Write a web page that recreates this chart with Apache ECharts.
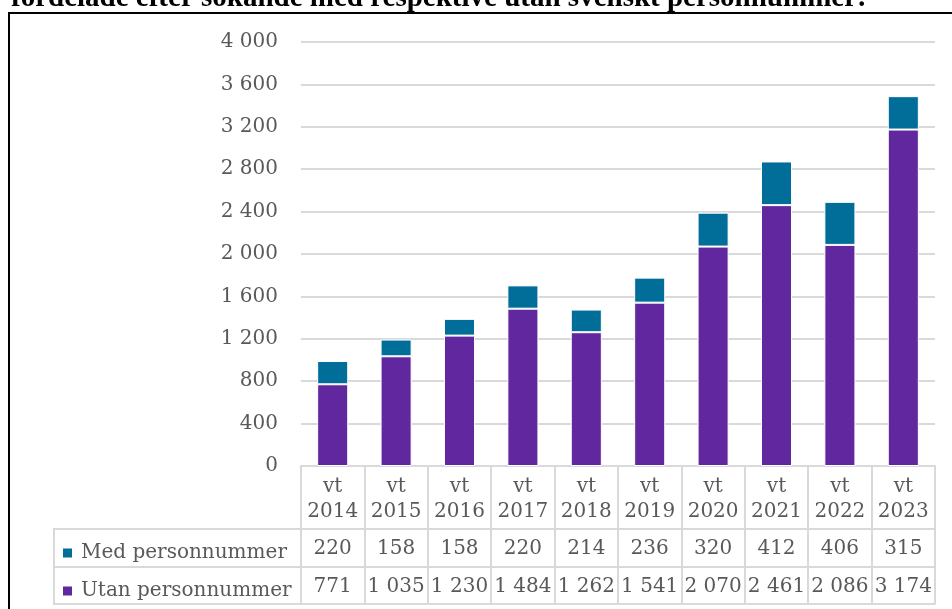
<!DOCTYPE html>
<html>
<head>
<meta charset="utf-8">
<script src="https://cdn.jsdelivr.net/npm/echarts@6/dist/echarts.min.js"></script>
<style>
  html, body { margin: 0; padding: 0; background: #fff; }
  #chart { width: 952px; height: 609px; }
</style>
</head>
<body>
<div id="chart"></div>
<script>
const categories = ["vt 2014", "vt 2015", "vt 2016", "vt 2017", "vt 2018", "vt 2019", "vt 2020", "vt 2021", "vt 2022", "vt 2023"];
const medPersonnummer = [220, 158, 158, 220, 214, 236, 320, 412, 406, 315];
const utanPersonnummer = [771, 1035, 1230, 1484, 1262, 1541, 2070, 2461, 2086, 3174];
const seriesNames = ["Med personnummer", "Utan personnummer"];

const font = "DejaVu Serif";
const grey = "#595959";
const lineGrey = "#d9d9d9";

// swedish style: space as thousands separator
const fmt = (v) => String(v).replace(/\B(?=(\d{3})+(?!\d))/g, " ");

const chart = echarts.init(document.getElementById("chart"));

const tableRow = (offset, tickLen, values) => ({
  type: "category",
  gridIndex: 0,
  position: "bottom",
  offset: offset,
  data: categories,
  axisLine: { show: true, lineStyle: { color: lineGrey, width: 2 } },
  axisTick: { show: tickLen > 0, interval: 0, length: tickLen, lineStyle: { color: lineGrey, width: 2 } },
  axisLabel: values
    ? {
        interval: 0,
        margin: 7,
        color: grey,
        fontFamily: font,
        fontSize: 20,
        lineHeight: 25,
        formatter: (val, i) => fmt(values[i]),
      }
    : { show: false },
});

chart.setOption({
  animation: false,
  title: {
    text: "fördelade efter sökande med respektive utan svenskt personnummer:",
    left: 6,
    top: -21,
    textStyle: { fontFamily: "Liberation Serif", fontWeight: "bold", fontSize: 29, lineHeight: 29, color: "#000" },
  },
  legend: {
    data: seriesNames,
    orient: "vertical",
    left: 56,
    top: 538,
    itemWidth: 11,
    itemHeight: 11,
    itemGap: 18,
    icon: "rect",
    selectedMode: false,
    textStyle: { color: grey, fontFamily: font, fontSize: 20, lineHeight: 20, padding: [0, 0, 0, 3] },
  },
  grid: { left: 301, right: 17, top: 42, bottom: 143 },
  xAxis: [
    {
      type: "category",
      data: categories,
      axisLine: { show: true, lineStyle: { color: lineGrey, width: 2 } },
      axisTick: { show: true, interval: 0, length: 63, lineStyle: { color: lineGrey, width: 2 } },
      axisLabel: {
        interval: 0,
        margin: 8,
        color: grey,
        fontFamily: font,
        fontSize: 20,
        lineHeight: 25,
        formatter: (val) => val.replace(" ", "\n"),
      },
    },
    tableRow(63, 38, medPersonnummer),
    tableRow(101, 37, utanPersonnummer),
    tableRow(138, 0, null),
  ],
  yAxis: {
    type: "value",
    min: 0,
    max: 4000,
    interval: 400,
    axisLine: { show: false },
    axisTick: { show: false },
    splitLine: { lineStyle: { color: lineGrey, width: 2 } },
    axisLabel: { margin: 23, color: grey, fontFamily: font, fontSize: 20, formatter: fmt },
  },
  series: [
    {
      name: "Utan personnummer",
      type: "bar",
      stack: "total",
      barWidth: "49%",
      data: utanPersonnummer,
      itemStyle: { color: "#61279e", borderColor: "#fff", borderWidth: 1 },
    },
    {
      name: "Med personnummer",
      type: "bar",
      stack: "total",
      barWidth: "49%",
      data: medPersonnummer,
      itemStyle: { color: "#006e99", borderColor: "#fff", borderWidth: 1 },
    },
  ],
  graphic: [
    // outer frame of the figure
    { type: "rect", shape: { x: 9, y: 13, width: 980, height: 700 }, style: { fill: "none", stroke: "#000", lineWidth: 2 }, silent: true },
    // legend column of the data table
    { type: "line", shape: { x1: 54, y1: 529, x2: 301, y2: 529 }, style: { stroke: lineGrey, lineWidth: 2 } },
    { type: "line", shape: { x1: 54, y1: 567, x2: 301, y2: 567 }, style: { stroke: lineGrey, lineWidth: 2 } },
    { type: "line", shape: { x1: 54, y1: 604, x2: 301, y2: 604 }, style: { stroke: lineGrey, lineWidth: 2 } },
    { type: "line", shape: { x1: 54, y1: 528, x2: 54, y2: 605 }, style: { stroke: lineGrey, lineWidth: 2 } },
  ],
});
</script>
</body>
</html>
